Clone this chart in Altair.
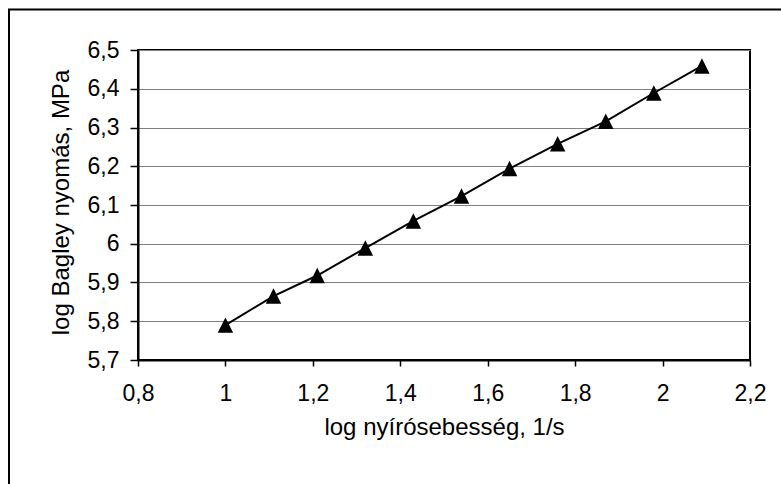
import altair as alt
import pandas as pd

x_vals = [1.0, 1.11, 1.21, 1.32, 1.43, 1.54, 1.65, 1.76, 1.87, 1.98, 2.09]
y_vals = [5.79, 5.865, 5.918, 5.989, 6.059, 6.123, 6.194, 6.258, 6.316, 6.389, 6.459]
x_ticks = [0.8, 1.0, 1.2, 1.4, 1.6, 1.8, 2.0, 2.2]
y_ticks = [5.7, 5.8, 5.9, 6.0, 6.1, 6.2, 6.3, 6.4, 6.5]

x_title = "log nyírósebesség, 1/s"
y_title = "log Bagley nyomás, MPa"

df = pd.DataFrame({"x": x_vals, "y": y_vals})
FONT = "Liberation Sans"
LFS = 23
TFS = 24
label_expr = "replace(format(datum.value, '.1~f'), '.', ',')"

xenc = alt.X(
    "x:Q",
    scale=alt.Scale(domain=[0.8, 2.2], nice=False, zero=False),
    axis=alt.Axis(
        title=x_title, values=x_ticks, tickCount=len(x_ticks), labelExpr=label_expr, grid=False,
        domainColor="black", domainWidth=2, tickColor="black", tickWidth=1.5,
        tickSize=6, labelPadding=16, labelFont=FONT, labelFontSize=LFS,
        labelColor="black", titleFont=FONT, titleFontSize=TFS, titleFontWeight="normal",
        titleColor="black", titlePadding=10, labelFlush=False, labelOverlap=False,
    ),
)
yenc = alt.Y(
    "y:Q",
    scale=alt.Scale(domain=[5.7, 6.5], nice=False, zero=False),
    axis=alt.Axis(
        title=y_title, values=y_ticks, tickCount=len(y_ticks), labelExpr=label_expr, grid=True,
        gridColor="#808080", gridWidth=1, gridOpacity=1,
        domainColor="black", domainWidth=2, tickColor="black", tickWidth=1.5,
        tickSize=8, labelPadding=11, labelFont=FONT, labelFontSize=LFS,
        labelColor="black", titleFont=FONT, titleFontSize=TFS, titleFontWeight="normal",
        titleColor="black", labelFlush=False, labelOverlap=False,
        titleX=-77, titleY=152, titleAngle=270, titleBaseline="middle", titleAlign="center",
    ),
)

base = alt.Chart(df)
line = base.mark_line(color="black", strokeWidth=2).encode(x=xenc, y=yenc)
pts = base.mark_point(
    shape="M0,-1L1,1L-1,1Z", filled=True, color="black", size=240, opacity=1
).encode(x="x:Q", y="y:Q")

frame = alt.Chart(pd.DataFrame({"a": [0]})).mark_rect(
    fill=None, stroke="black", strokeWidth=2
).encode(
    x=alt.value(-129), y=alt.value(-40.5), x2=alt.value(700), y2=alt.value(500)
)

chart = alt.layer(line, pts, frame).properties(
    width=612, height=310,
    autosize=alt.AutoSizeParams(type="none"),
    padding={"left": 138, "top": 50, "right": 31, "bottom": 124},
    background="white",
).configure_view(stroke="black", strokeWidth=2)

chart.save("out.html", embed_options={"renderer": "svg", "actions": False})
